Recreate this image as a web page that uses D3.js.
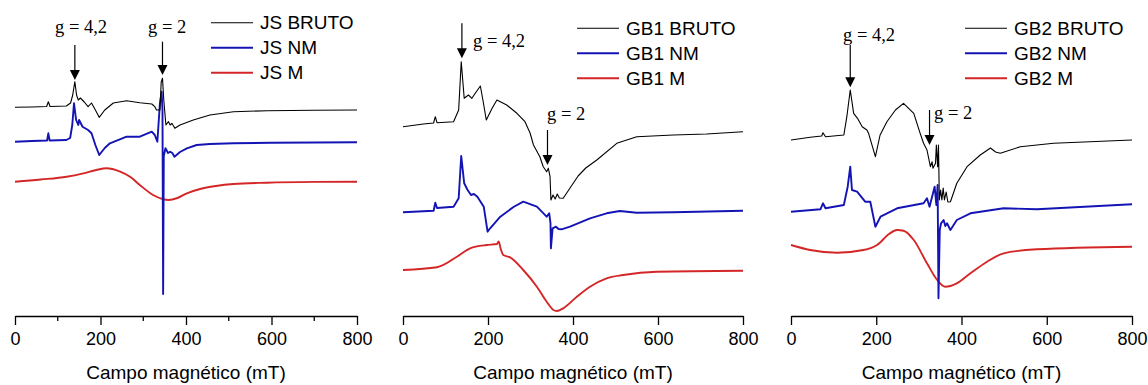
<!DOCTYPE html>
<html>
<head>
<meta charset="utf-8">
<script src="https://cdn.jsdelivr.net/npm/d3@7"></script>
<style>
  body { margin: 0; background: #fff; }
  svg { display: block; }
  .tick text { font-family: "Liberation Sans", Arial, sans-serif; }
</style>
</head>
<body>
<div id="chart"></div>
<script>
// EPR spectra, field (mT) vs intensity (arbitrary units, offset)
const fieldTicks = [0, 200, 400, 600, 800];
const minorTicks = [100, 300, 500, 700];

const jsBruto = [[0,208.7],[40,209],[74,209.5],[78,214.3],[82,209.5],[120,210],[130,213],[135,221],[140,234.3],[144,221],[148,216],[153,218],[162,214],[171,209.3],[179,213],[188,206],[197,198.7],[210,206],[230,213],[261,215.3],[292,213.3],[320,212],[327,209.3],[331,206],[339,206],[342,234],[345,237.7],[348,216],[353,191],[359,194.3],[363,191],[367,192.7],[374,187.7],[386,191],[417,196],[456,201],[511,204.3],[589,205.3],[700,205.7],[800,206]];
const jsNM = [[0,174.3],[40,175],[75,175.5],[78,182.7],[81,175.5],[120,176],[129,178],[134,191],[138,212.7],[143,196],[148,191],[150,196],[158,189.3],[171,186],[179,182.7],[188,171],[197,161],[210,168],[222,172.7],[261,179.3],[292,179.3],[320,184.3],[327,181],[333,174.3],[339,212.7],[343,224.3],[345,206],[346.5,22],[348,160],[352,167.7],[358,163],[363,164.3],[368,163],[373,159.3],[386,164],[402,167.7],[425,171],[456,172],[511,172.7],[600,173.3],[800,173.7]];
const jsM = [[0,134.3],[60,136.5],[121,139.3],[160,142.7],[190,146],[214,147.7],[246,144.3],[270,139],[292,131],[323,121],[345,117],[359,116],[380,118],[402,122.7],[433,127],[470,130],[511,132],[589,133.3],[700,134.1],[800,134.3]];

const gb1Bruto = [[0,189.3],[48,192],[72,193],[76,199.3],[80,193.3],[119,194.3],[131,206],[137,254.3],[144,217.7],[154,221],[162,217.7],[172,224],[182,230],[188,216],[196,196],[210,208],[221,216],[244,211],[268,202.7],[287,194.3],[299,183],[307,171],[322,159.3],[330,149.3],[338,144.3],[342,147.7],[346,139.3],[348,116],[353,121],[358,117],[363,122],[368,118],[377,117.7],[393,128],[412,140],[430,148],[456,156],[503,172.7],[550,179.3],[636,181],[714,182],[800,184.3]];
const gb1NM = [[0,103.7],[72,105.3],[76,113.3],[80,108],[119,109.3],[131,117.7],[137,160],[144,132.7],[152,126],[160,121],[167,122],[175,119.3],[190,109.3],[199,84.3],[205,87.7],[229,99.3],[260,109],[283,114.3],[315,109.3],[338,99.3],[344,102.7],[347,93],[348,67.7],[352,87.7],[360,89.3],[366,87],[373,86.7],[393,89.3],[440,97.7],[479,102.7],[510,105],[550,103.3],[636,103.7],[800,105.3]];
const gb1M = [[0,46],[80,48.7],[127,59.3],[158,67.7],[197,71],[221,72],[225,74.5],[230,67],[236,61],[252,58.7],[283,46],[315,29.3],[338,14.3],[354,6],[362,5],[377,7.7],[409,19.3],[440,29.3],[479,37.7],[518,41],[597,44.3],[800,45.3]];

const gb2Bruto = [[0,176],[45,178.7],[72,180],[75,183.3],[81,179.3],[124,181],[131,199.3],[139,226],[147,202.7],[156,197.7],[167,189.3],[178,186],[182,182.7],[198,159.3],[209,181],[225,194.3],[245,206],[264,212.7],[288,202.7],[303,182.7],[311,172.7],[319,166],[327,149.3],[331,154.3],[333,147.7],[339,152.7],[341,171],[344,149.3],[346,171],[348,116],[351,126],[354,116],[357,128],[360,116],[364,124],[368,114],[374,114.3],[389,132.7],[413,149.3],[444,161],[468,168],[480,164],[491,162.7],[538,169.3],[616,172.7],[800,176]];
const gb2NM = [[0,104.3],[69,106.7],[75,112.7],[81,107.7],[124,111],[133,129.3],[139,149.3],[143,126],[155,124.3],[174,114.3],[186,114.3],[198,89.3],[210,99.3],[249,107.7],[311,112.7],[319,117.7],[325,109.3],[331,119.3],[337,129.3],[341,111],[344,131],[346,17.7],[349,86],[352,92.7],[358,96],[362,90],[366,92.7],[374,86],[389,96],[421,102.7],[499,107.7],[577,106.7],[800,111.7]];
const gb2M = [[0,71],[45,66],[108,63.3],[170,66],[202,71],[230,82],[249,86],[264,85.3],[288,76],[319,52.7],[343,36],[362,29.3],[389,32.7],[421,42.7],[460,54.3],[499,62.7],[577,66.7],[800,69.3]];

const seriesNames = [
  ['JS BRUTO', 'JS NM', 'JS M'],
  ['GB1 BRUTO', 'GB1 NM', 'GB1 M'],
  ['GB2 BRUTO', 'GB2 NM', 'GB2 M']
];
// g-factor markers: [field, label]
const gMarks = [
  [[140, 'g = 4,2'], [345, 'g = 2']],
  [[138.6, 'g = 4,2'], [340, 'g = 2']],
  [[139, 'g = 4,2'], [325, 'g = 2']]
];

const colors = ['#000000', '#1414b4', '#d42626'];
const widths = [1.1, 1.9, 1.9];

const W = 1148, H = 385;
const svg = d3.select('#chart').append('svg').attr('width', W).attr('height', H);

// layout per panel
const panels = [
  { x0: 15, x1: 357, data: [jsBruto, jsNM, jsM], minor: true,
    legend: { x: 211, y: 22.7, dy: 25 },
    marks: [{ top: 271, bot: 236, tx: 55, ty: 33 }, { top: 274.3, bot: 241, tx: 148, ty: 33 }] },
  { x0: 403, x1: 743, data: [gb1Bruto, gb1NM, gb1M], minor: false,
    legend: { x: 577, y: 28.3, dy: 25 },
    marks: [{ top: 292.7, bot: 257.7, tx: 473, ty: 46.7 }, { top: 186, bot: 151, tx: 547, ty: 120 }] },
  { x0: 791, x1: 1132, data: [gb2Bruto, gb2NM, gb2M], minor: false,
    legend: { x: 965, y: 28.3, dy: 25 },
    marks: [{ top: 271, bot: 228.7, tx: 843, ty: 40.5 }, { top: 206, bot: 171, tx: 934, ty: 118.5 }] }
];

const y = d3.scaleLinear().domain([0, 300]).range([316, 16]);
const axisY = 316;

panels.forEach((p, pi) => {
  const x = d3.scaleLinear().domain([0, 800]).range([p.x0, p.x1]);
  const g = svg.append('g');

  // spectra, red first so blue/black stay on top
  [2, 1, 0].forEach(si => {
    const line = d3.line()
      .x(d => x(d[0]))
      .y(d => y(d[1]))
      .curve(si === 2 ? d3.curveMonotoneX : d3.curveLinear);
    g.append('path')
      .datum(p.data[si])
      .attr('d', line)
      .attr('fill', 'none')
      .attr('stroke', colors[si])
      .attr('stroke-width', widths[si])
      .attr('stroke-linejoin', 'round');
  });

  // x axis
  const ax = g.append('g')
    .attr('transform', 'translate(0,' + axisY + ')')
    .call(d3.axisBottom(x).tickValues(fieldTicks).tickSize(9).tickPadding(7).tickSizeOuter(0));
  ax.select('.domain').attr('stroke', '#000').attr('stroke-width', 1.3);
  ax.selectAll('.tick line').attr('stroke-width', 1.3);
  ax.selectAll('.tick text').attr('font-size', 18).attr('fill', '#000');
  if (p.minor) {
    ax.selectAll('.minor').data(minorTicks).enter().append('line')
      .attr('x1', d => x(d)).attr('x2', d => x(d))
      .attr('y1', 0).attr('y2', 5)
      .attr('stroke', '#000').attr('stroke-width', 1.3);
  }
  g.append('text')
    .attr('x', (p.x0 + p.x1) / 2)
    .attr('y', 379)
    .attr('text-anchor', 'middle')
    .attr('font-family', '"Liberation Sans", Arial, sans-serif')
    .attr('font-size', 19)
    .text('Campo magnético (mT)');

  // legend
  seriesNames[pi].forEach((name, si) => {
    const ly = p.legend.y + si * p.legend.dy;
    g.append('line')
      .attr('x1', p.legend.x).attr('x2', p.legend.x + 42)
      .attr('y1', ly).attr('y2', ly)
      .attr('stroke', colors[si]).attr('stroke-width', si === 0 ? 1.1 : 1.9);
    g.append('text')
      .attr('x', p.legend.x + 49)
      .attr('y', ly + 6.5)
      .attr('font-family', '"Liberation Sans", Arial, sans-serif')
      .attr('font-size', 19)
      .text(name);
  });

  // g markers
  gMarks[pi].forEach((m, mi) => {
    const lay = p.marks[mi];
    const ax0 = x(m[0]);
    const yTop = y(lay.top), yBot = y(lay.bot);
    g.append('line')
      .attr('x1', ax0).attr('x2', ax0)
      .attr('y1', yTop).attr('y2', yBot - 9)
      .attr('stroke', '#000').attr('stroke-width', 1.2);
    g.append('path')
      .attr('d', d3.line()([[ax0 - 5, yBot - 10], [ax0 + 5, yBot - 10], [ax0, yBot]]) + 'Z')
      .attr('fill', '#000');
    g.append('text')
      .attr('x', lay.tx)
      .attr('y', lay.ty)
      .attr('font-family', '"Liberation Serif", "Times New Roman", serif')
      .attr('font-size', 18.5)
      .attr('xml:space', 'preserve')
      .text(m[1]);
  });
});
</script>
</body>
</html>
